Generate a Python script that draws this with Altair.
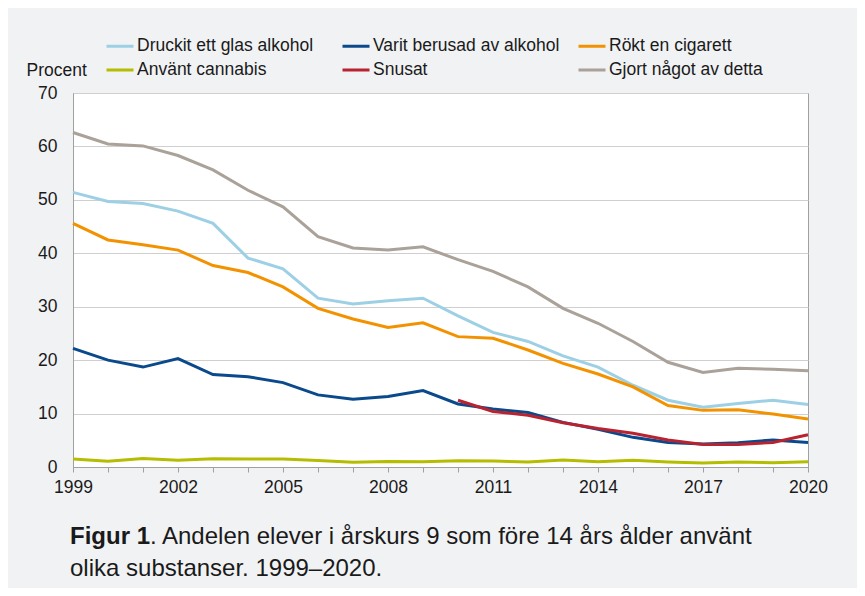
import altair as alt
import pandas as pd

years = list(range(1999, 2021))

series_names = [
    "Druckit ett glas alkohol",
    "Varit berusad av alkohol",
    "Rökt en cigarett",
    "Använt cannabis",
    "Snusat",
    "Gjort något av detta",
]
series_colors = ["#9dd0e4", "#0a4a8c", "#f39200", "#b4bd00", "#b8232f", "#aaa199"]

druckit = [51.4, 49.7, 49.3, 47.9, 45.6, 39.1, 37.1, 31.6, 30.5, 31.1, 31.6,
           28.3, 25.2, 23.5, 20.8, 18.7, 15.3, 12.5, 11.2, 11.9, 12.5, 11.7]
varit = [22.2, 20.0, 18.7, 20.3, 17.3, 16.9, 15.8, 13.5, 12.7, 13.2, 14.3,
         11.8, 10.85, 10.2, 8.35, 7.05, 5.55, 4.6, 4.3, 4.55, 5.05, 4.6]
rokt = [45.6, 42.5, 41.6, 40.6, 37.7, 36.4, 33.7, 29.7, 27.7, 26.1, 27.0,
        24.4, 24.1, 21.9, 19.4, 17.4, 15.0, 11.5, 10.6, 10.7, 9.9, 9.0]
cannabis = [1.5, 1.1, 1.6, 1.25, 1.55, 1.5, 1.5, 1.2, 0.9, 1.05, 1.0,
            1.15, 1.1, 0.95, 1.3, 1.0, 1.25, 0.95, 0.75, 0.95, 0.8, 1.0]
snusat = [None, None, None, None, None, None, None, None, None, None, None,
          12.5, 10.4, 9.7, 8.3, 7.2, 6.3, 5.05, 4.2, 4.2, 4.6, 6.05]
gjort = [62.6, 60.45, 60.1, 58.3, 55.6, 51.8, 48.7, 43.1, 41.0, 40.6, 41.2,
         38.8, 36.6, 33.7, 29.7, 26.9, 23.5, 19.6, 17.7, 18.5, 18.3, 18.0]

y_ticks = [0, 10, 20, 30, 40, 50, 60, 70]

caption_bold = "Figur 1"
caption_rest = ". Andelen elever i årskurs 9 som före 14 års ålder använt"
caption_line2 = "olika substanser. 1999–2020."

rows = []
for name, vals in zip(series_names, [druckit, varit, rokt, cannabis, snusat, gjort]):
    for yr, v in zip(years, vals):
        if v is not None:
            rows.append({"År": yr, "Serie": name, "Procent": v})
df = pd.DataFrame(rows)

# the legend grid is filled column by column: reorder so rows read as in the reference
legend_order = [series_names[i] for i in (0, 3, 1, 4, 2, 5)]
legend_colors = [series_colors[i] for i in (0, 3, 1, 4, 2, 5)]

FONT = "Liberation Sans, Arial, sans-serif"

lines = alt.Chart(df).mark_line(strokeWidth=3).encode(
    x=alt.X(
        "År:Q",
        scale=alt.Scale(domain=[1999, 2020], nice=False, zero=False),
        axis=alt.Axis(
            values=years,
            labelExpr="(datum.value - 1999) % 3 == 0 ? datum.label : ''",
            format="d",
            grid=False,
            tickSize=5,
            tickColor="#a0a0a0",
            domainColor="#a0a0a0",
            labelPadding=6,
            labelFlush=False,
            labelOverlap=False,
            title=None,
        ),
    ),
    y=alt.Y(
        "Procent:Q",
        scale=alt.Scale(domain=[0, 70], nice=False),
        axis=alt.Axis(
            values=y_ticks,
            ticks=False,
            grid=True,
            gridColor="#cfcfcf",
            domainColor="#a0a0a0",
            labelPadding=16,
            title="Procent",
            titleAngle=0,
            titleAlign="left",
            titleBaseline="alphabetic",
            titleX=-47,
            titleY=-18,
            titleFontWeight="normal",
            titleFontSize=17.5,
            titleFont=FONT,
            titleColor="#1a1a1a",
        ),
    ),
    color=alt.Color(
        "Serie:N",
        scale=alt.Scale(domain=legend_order, range=legend_colors),
        legend=alt.Legend(
            title=None,
            orient="none",
            legendX=32,
            legendY=-62,
            columns=3,
            gridAlign="all",
            columnPadding=12,
            rowPadding=-4,
            symbolType="stroke",
            symbolSize=729,
            symbolStrokeWidth=3,
            labelOffset=2,
            labelFontSize=17.5,
            labelFont=FONT,
            labelColor="#1a1a1a",
            padding=0,
            labelLimit=400,
        ),
    ),
)

cap1 = alt.Chart(pd.DataFrame({"t": [caption_bold]})).mark_text(
    align="left", baseline="middle", fontSize=24, fontWeight="bold", font=FONT, color="#1a1a1a"
).encode(text="t:N", x=alt.value(-3), y=alt.value(444))

cap1b = alt.Chart(pd.DataFrame({"t": [caption_rest]})).mark_text(
    align="left", baseline="middle", fontSize=24, font=FONT, color="#1a1a1a"
).encode(text="t:N", x=alt.value(77), y=alt.value(444))

cap2 = alt.Chart(pd.DataFrame({"t": [caption_line2]})).mark_text(
    align="left", baseline="middle", fontSize=24, font=FONT, color="#1a1a1a"
).encode(text="t:N", x=alt.value(-3), y=alt.value(476))

chart = alt.layer(lines, cap1, cap1b, cap2).properties(
    width=735,
    height=374,
    background="#f1f2f4",
    padding={"left": 65, "top": 85, "right": 49, "bottom": 121},
    autosize=alt.AutoSizeParams(type="none"),
).configure_view(
    stroke="#a0a0a0", strokeWidth=1, fill="white"
).configure_axis(
    labelFont=FONT, labelFontSize=17.5, labelColor="#1a1a1a"
)

chart.save("out.html", embed_options={"renderer": "svg", "actions": False})
